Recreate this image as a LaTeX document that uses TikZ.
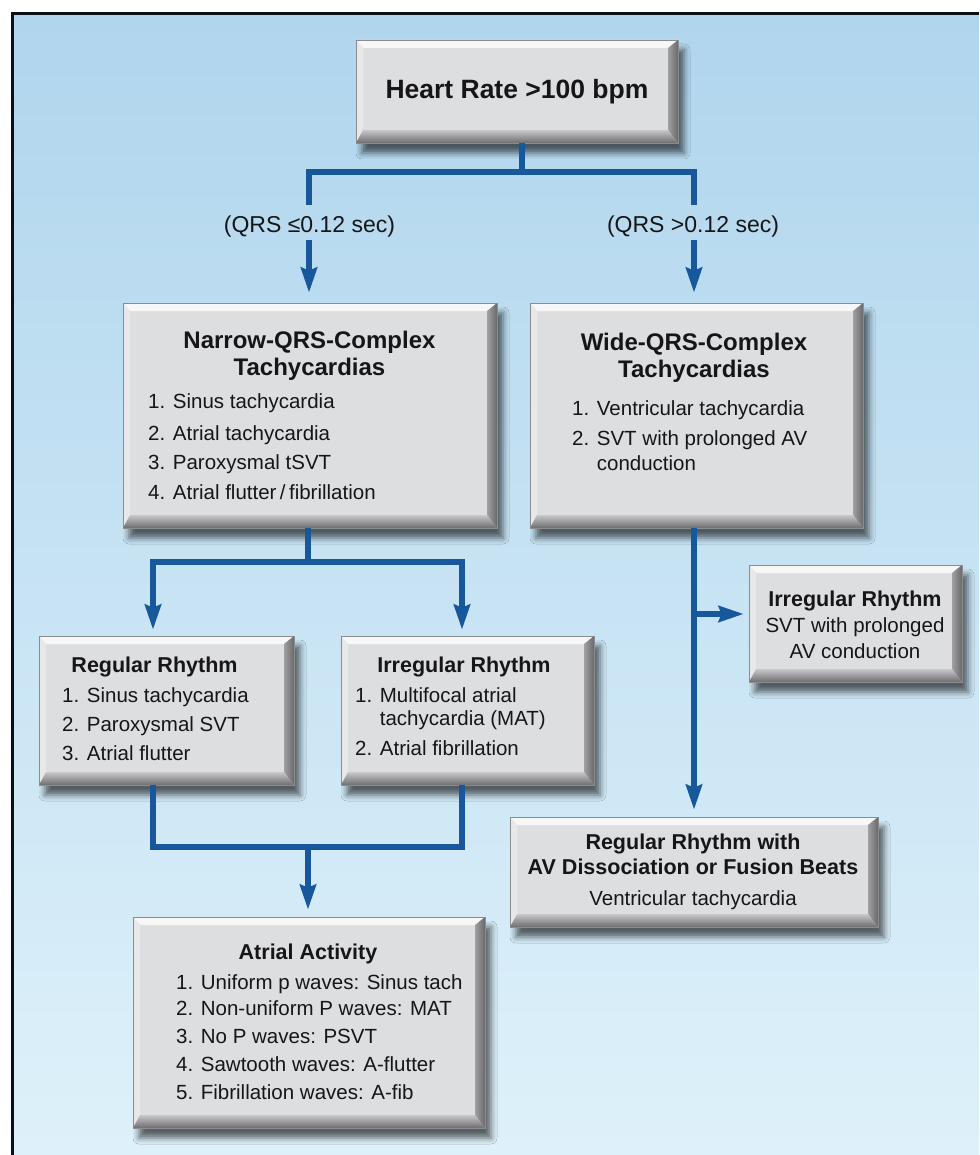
\documentclass[tikz,border=0pt]{standalone}
\usepackage{fontspec}
\setmainfont{Liberation Sans}
\usetikzlibrary{arrows.meta,shadows.blur,calc}
\definecolor{bgtop}{RGB}{176,213,237}
\definecolor{bgbot}{RGB}{222,241,250}
\definecolor{framec}{HTML}{0B0F1A}
\definecolor{lineblue}{RGB}{22,88,155}
\definecolor{boxface}{RGB}{221,222,223}
\definecolor{boxedge}{RGB}{140,140,140}
\definecolor{bevtop}{RGB}{247,247,247}
\definecolor{bevleft}{RGB}{232,232,233}
\definecolor{bevrin}{RGB}{160,160,162}
\definecolor{bevrout}{RGB}{105,105,108}
\definecolor{bevbin}{RGB}{200,200,202}
\definecolor{bevbout}{RGB}{110,110,112}
\definecolor{txt}{RGB}{22,22,24}
\newcommand\bevelbox{%
  \path (path picture bounding box.north west) coordinate (bNW)
        (path picture bounding box.north east) coordinate (bNE)
        (path picture bounding box.south west) coordinate (bSW)
        (path picture bounding box.south east) coordinate (bSE);
  \fill[bevtop] (bNW) -- (bNE) -- ([shift={(-10pt,-8pt)}]bNE) -- ([shift={(7pt,-8pt)}]bNW) -- cycle;
  \fill[bevleft] (bNW) -- ([shift={(7pt,-8pt)}]bNW) -- ([shift={(7pt,13pt)}]bSW) -- (bSW) -- cycle;
  \shade[left color=bevrin, right color=bevrout] (bNE) -- (bSE) -- ([shift={(-10pt,13pt)}]bSE) -- ([shift={(-10pt,-8pt)}]bNE) -- cycle;
  \shade[top color=bevbin, bottom color=bevbout] (bSW) -- (bSE) -- ([shift={(-10pt,13pt)}]bSE) -- ([shift={(7pt,13pt)}]bSW) -- cycle;
}
\tikzset{
  bx/.style={rectangle, fill=boxface, draw=boxedge, line width=0.6pt, inner sep=0pt,
    blur shadow={shadow xshift=6pt, shadow yshift=-10pt, shadow blur radius=6pt, shadow opacity=60},
    path picture={\bevelbox}},
  conn/.style={draw=lineblue, line width=6pt, line join=miter},
  arr/.style={conn, -{Stealth[length=25pt,width=16pt,inset=3pt]}},
  itm/.style={anchor=base west, inner sep=0pt, font=\fontsize{20.5}{24}\selectfont, text=txt},
  ctr/.style={anchor=base, inner sep=0pt, font=\fontsize{20.5}{24}\selectfont, text=txt},
  ttl/.style={anchor=base, inner sep=0pt, font=\fontsize{24}{28}\selectfont\bfseries, text=txt},
  sttl/.style={anchor=base, inner sep=0pt, font=\fontsize{21.5}{25}\selectfont\bfseries, text=txt},
  lbl/.style={anchor=base, inner sep=0pt, font=\fontsize{23}{27}\selectfont, text=txt},
}
\begin{document}
\begin{tikzpicture}[x=1pt,y=-1pt]
\useasboundingbox (0,0) rectangle (979,1155);
\fill[white] (0,0) rectangle (979,1155);
\shade[top color=bgtop, bottom color=bgbot] (11,13) rectangle (979,1155);
\draw[framec, line width=3.5pt] (12.5,1155) -- (12.5,13.5) -- (979,13.5);

% boxes
\node[bx, minimum width=322pt, minimum height=103pt] (hr) at (517,91.5) {};
\node[bx, minimum width=374pt, minimum height=225pt] (nq) at (310,415.5) {};
\node[bx, minimum width=333pt, minimum height=225pt] (wq) at (696.5,415.5) {};
\node[bx, minimum width=255pt, minimum height=149pt] (reg) at (166.5,710.5) {};
\node[bx, minimum width=253pt, minimum height=149pt] (irr) at (467.5,710.5) {};
\node[bx, minimum width=213pt, minimum height=117pt] (ri) at (855.5,623.5) {};
\node[bx, minimum width=368pt, minimum height=110pt] (br) at (694,872) {};
\node[bx, minimum width=352pt, minimum height=211pt] (atr) at (309,1022.5) {};

% texts
\node[anchor=base, inner sep=0pt, font=\fontsize{26.5}{30}\selectfont\bfseries, text=txt] (hrt) at (517,98.5) {Heart Rate >100 bpm};

\node[lbl] (ql) at (309.5,233) {(QRS ≤0.12 sec)};
\node[lbl] (qr) at (693,233) {(QRS >0.12 sec)};

\node[ttl] (nqt1) at (309.5,348.6) {Narrow-QRS-Complex};
\node[ttl] (nqt2) at (309.5,375.6) {Tachycardias};
\node[itm] (nq1) at (148,408.3) {1. Sinus tachycardia};
\node[itm] (nq2) at (148,440.3) {2. Atrial tachycardia};
\node[itm] (nq3) at (148,469.3) {3. Paroxysmal tSVT};
\node[itm] (nq4) at (148,499.3) {4. Atrial flutter\,/\,fibrillation};

\node[ttl] (wqt1) at (694,350.6) {Wide-QRS-Complex};
\node[ttl] (wqt2) at (694,377.6) {Tachycardias};
\node[itm] (wq1) at (572,415.3) {1. Ventricular tachycardia};
\node[itm] (wq2) at (572,445.3) {2. SVT with prolonged AV};
\node[itm] (wq3) at (572,470.3) {\phantom{2. }conduction};

\node[sttl] (regt) at (154.5,672.7) {Regular Rhythm};
\node[itm] (reg1) at (62,702.3) {1. Sinus tachycardia};
\node[itm] (reg2) at (62,731.3) {2. Paroxysmal SVT};
\node[itm] (reg3) at (62,760.3) {3. Atrial flutter};

\node[sttl] (irrt) at (464,672.7) {Irregular Rhythm};
\node[itm] (irr1) at (355,702.3) {1. Multifocal atrial};
\node[itm] (irr2) at (355,725.3) {\phantom{1. }tachycardia (MAT)};
\node[itm] (irr3) at (355,755.3) {2. Atrial fibrillation};

\node[sttl] (rit) at (855,606.7) {Irregular Rhythm};
\node[ctr] (ri1) at (855,632.3) {SVT with prolonged};
\node[ctr] (ri2) at (855,658.3) {AV conduction};

\node[sttl] (brt1) at (693,849.7) {Regular Rhythm with};
\node[sttl] (brt2) at (693,874.7) {AV Dissociation or Fusion Beats};
\node[ctr] (br1) at (693,905.3) {Ventricular tachycardia};

\node[sttl] (atrt) at (308,959.7) {Atrial Activity};
\node[itm] (atr1) at (176,989.3) {1. Uniform p waves: Sinus tach};
\node[itm] (atr2) at (176,1015.3) {2. Non-uniform P waves: MAT};
\node[itm] (atr3) at (176,1043.3) {3. No P waves: PSVT};
\node[itm] (atr4) at (176,1071.3) {4. Sawtooth waves: A-flutter};
\node[itm] (atr5) at (176,1099.3) {5. Fibrillation waves: A-fib};

% junction coordinates
\coordinate (jt) at (522,172);
\coordinate (la1) at (309,205);
\coordinate (la2) at (309,240);
\coordinate (ra1) at (694,205);
\coordinate (ra2) at (694,240);
\coordinate (jr) at (694,172);
\coordinate (jn) at (308,562);
\coordinate (jn1) at (153,562);
\coordinate (jn2) at (462,562);
\coordinate (jb) at (308,847);
\coordinate (jb1) at (153,847);
\coordinate (jb2) at (462,847);
\coordinate (jw) at (694,614);

% connectors
\draw[conn] (hr.south -| jt) -- (jt);
\draw[conn] (la1) |- (jr) -- (ra1);
\draw[arr, shorten >=10pt] (la2) -- (la2 |- nq.north);
\draw[arr, shorten >=10pt] (ra2) -- (ra2 |- wq.north);

\draw[conn] (nq.south -| jn) -- (jn);
\draw[arr, shorten >=6pt] (jn) -| (jn1 |- reg.north);
\draw[arr, shorten >=6pt] (jn) -| (jn2 |- irr.north);

\draw[conn] (reg.south -| jb1) |- (jb2) -- (irr.south -| jb2);
\draw[arr, shorten >=7pt] (jb) -- (jb |- atr.north);

\draw[arr, shorten >=7pt] (wq.south -| jw) -- (jw |- br.north);
\draw[arr, shorten >=5pt] (jw) -- (ri.west |- jw);
\end{tikzpicture}
\end{document}
